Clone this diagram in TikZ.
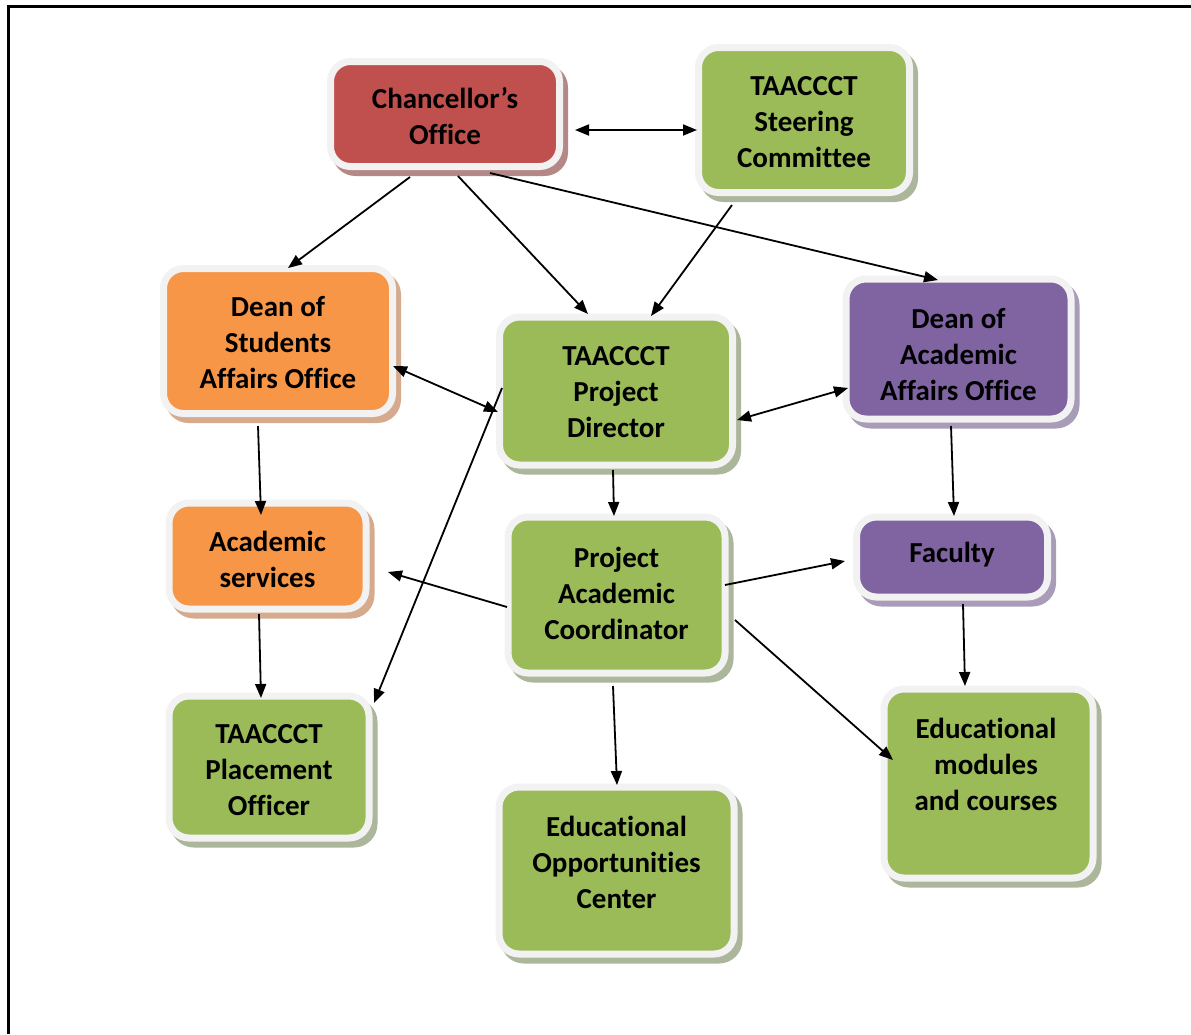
\documentclass[tikz,border=0pt]{standalone}
\usepackage{fontspec}
\setmainfont[Ligatures=NoCommon]{Carlito}
\usetikzlibrary{arrows.meta,calc}
\definecolor{cred}{HTML}{C0504D}
\definecolor{corange}{HTML}{F79646}
\definecolor{cgreen}{HTML}{9BBB59}
\definecolor{cpurple}{HTML}{8064A2}
\definecolor{sred}{HTML}{B38887}
\definecolor{sorange}{HTML}{D6AA8C}
\definecolor{sgreen}{HTML}{ACB69A}
\definecolor{spurple}{HTML}{A99CB8}
\definecolor{rim}{HTML}{F2F2F2}
\tikzset{
  orgbox/.style 2 args={rectangle, rounded corners=20pt, fill=#1, draw=rim,
    line width=7pt, inner sep=0pt,
    preaction={draw=#2, fill=#2, line width=7pt,
      transform canvas={shift={(5pt,-6pt)}}}},
  txt/.style={align=center, font=\fontsize{29}{36}\selectfont\bfseries, inner sep=0pt},
  conn/.style={line width=1.8pt, -{Triangle[length=14pt,width=11pt]}},
  dconn/.style={line width=1.8pt, {Triangle[length=14pt,width=11pt]}-{Triangle[length=14pt,width=11pt]}},
  frame/.style={line width=3pt}
}
\begin{document}
\begin{tikzpicture}[x=1pt,y=-1pt]
\useasboundingbox (0,0) rectangle (1191,1034);
\coordinate (fa1) at (8,1034);
\coordinate (fa2) at (8,6);
\coordinate (fa3) at (1191,6);
\draw[frame] (fa1) -- (fa2) -- (fa3);

% boxes
\node[orgbox={cred}{sred}, minimum width=229pt, minimum height=105pt] (ch) at (445,114) {};
\node[orgbox={cgreen}{sgreen}, minimum width=211pt, minimum height=145pt] (st) at (804,120) {};
\node[orgbox={corange}{sorange}, minimum width=229pt, minimum height=145pt] (ds) at (278,341) {};
\node[orgbox={cgreen}{sgreen}, minimum width=233pt, minimum height=148pt] (pd) at (616,391) {};
\node[orgbox={cpurple}{spurple}, minimum width=225pt, minimum height=140pt] (da) at (958.5,349) {};
\node[orgbox={cpurple}{spurple}, minimum width=191pt, minimum height=80pt] (fa) at (952,557) {};
\node[orgbox={corange}{sorange}, minimum width=197pt, minimum height=106pt] (as) at (267.5,556) {};
\node[orgbox={cgreen}{sgreen}, minimum width=200pt, minimum height=142pt] (po) at (269,767) {};
\node[orgbox={cgreen}{sgreen}, minimum width=217pt, minimum height=156pt] (pac) at (616.5,595) {};
\node[orgbox={cgreen}{sgreen}, minimum width=235pt, minimum height=167pt] (eoc) at (616.5,870.5) {};
\node[orgbox={cgreen}{sgreen}, minimum width=209pt, minimum height=189pt] (em) at (988.5,783.5) {};

% texts
\node[txt] (cht) at (445,116) {Chancellor’s\\Office};
\node[txt] (stt) at (804,122) {TAACCCT\\Steering\\Committee};
\node[txt] (dst) at (278,343) {Dean of\\Students\\Affairs Office};
\node[txt] (pdt) at (616,392) {TAACCCT\\Project\\Director};
\node[txt] (dat) at (958.5,355) {Dean of\\Academic\\Affairs Office};
\node[txt] (fat) at (952,555) {Faculty};
\node[txt] (ast) at (267.5,559) {Academic\\services};
\node[txt] (pot) at (269,770) {TAACCCT\\Placement\\Officer};
\node[txt] (pact) at (616.5,593) {Project\\Academic\\Coordinator};
\node[txt] (eoct) at (616.5,862) {Educational\\Opportunities\\Center};
\node[txt] (emt) at (986,764) {Educational\\modules\\and courses};

% connectors
\draw[dconn] ($(ch)+(130,16)$) -- ($(st)+(-107,10)$);
\draw[conn] ($(ch)+(-35,63)$) -- ($(ds)+(10,-73)$);
\draw[conn] ($(ch)+(13,62)$) -- ($(pd)+(-28,-77)$);
\draw[conn] ($(ch)+(45,59)$) -- ($(da)+(-20.5,-69)$);
\draw[conn] ($(st)+(-72,85)$) -- ($(pd)+(35,-75)$);
\draw[dconn] ($(ds)+(115,25)$) -- ($(pd)+(-118,21)$);
\draw[dconn] ($(pd)+(121,29)$) -- ($(da)+(-110.5,39)$);
\draw[conn] ($(pd)+(-3,79)$) -- ($(pac)+(-2.5,-79)$);
\draw[conn] ($(pd)+(-114,-3)$) -- ($(po)+(105,-64)$);
\draw[conn] ($(da)+(-7.5,77)$) -- ($(fa)+(2,-41)$);
\draw[conn] ($(ds)+(-20,85)$) -- ($(as)+(-6.5,-41)$);
\draw[conn] ($(pac)+(-109.5,12)$) -- ($(as)+(120.5,16)$);
\draw[conn] ($(pac)+(108.5,-10)$) -- ($(fa)+(-107,4)$);
\draw[conn] ($(as)+(-8.5,58)$) -- ($(po)+(-8,-69)$);
\draw[conn] ($(pac)+(-3.5,91)$) -- ($(eoc)+(0.5,-85.5)$);
\draw[conn] ($(pac)+(118.5,25)$) -- ($(em)+(-95.5,-23.5)$);
\draw[conn] ($(fa)+(11,47)$) -- ($(em)+(-23.5,-97.5)$);
\end{tikzpicture}
\end{document}
